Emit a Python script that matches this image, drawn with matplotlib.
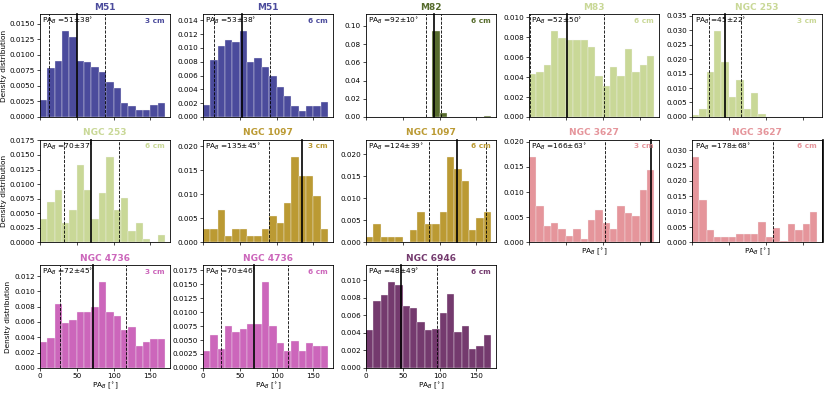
import matplotlib.pyplot as plt
from matplotlib.ticker import MaxNLocator
import numpy as np

# PA histograms, 10 deg bins from 0 to 170
bin_edges = np.arange(0, 180, 10)

m51_3cm = [0.0027, 0.0079, 0.0090, 0.0138, 0.0129, 0.0090, 0.0088, 0.0081, 0.0072,
           0.0057, 0.0047, 0.0022, 0.0017, 0.0011, 0.0011, 0.0020, 0.0022]
m51_6cm = [0.0018, 0.0083, 0.0103, 0.0112, 0.0108, 0.0124, 0.0079, 0.0085, 0.0072,
           0.0060, 0.0043, 0.0031, 0.0016, 0.0009, 0.0016, 0.0016, 0.0022]
m82_6cm = [0, 0, 0, 0, 0, 0, 0, 0, 0, 0.094, 0.0047, 0, 0, 0, 0, 0, 0.001]
m83_6cm = [0.0043, 0.0045, 0.0052, 0.0086, 0.0079, 0.0077, 0.0077, 0.0077, 0.0070,
           0.0041, 0.0031, 0.0050, 0.0041, 0.0068, 0.0045, 0.0052, 0.0061]
ngc253_3cm = [0.0006, 0.0026, 0.0154, 0.0296, 0.0190, 0.0069, 0.0126, 0.0026, 0.0082,
              0.0011, 0, 0, 0, 0, 0, 0, 0]
ngc253_6cm = [0.0041, 0.0069, 0.0090, 0.0034, 0.0055, 0.0133, 0.0090, 0.0041, 0.0084,
              0.0147, 0.0055, 0.0076, 0.0020, 0.0034, 0.0006, 0, 0.0013]
ngc1097_3cm = [0.0027, 0.0027, 0.0068, 0.0013, 0.0027, 0.0027, 0.0013, 0.0013, 0.0027,
               0.0055, 0.0041, 0.0082, 0.0178, 0.0137, 0.0137, 0.0096, 0.0027]
ngc1097_6cm = [0.0013, 0.0041, 0.0013, 0.0013, 0.0013, 0, 0.0028, 0.0069, 0.0041,
               0.0041, 0.0069, 0.0194, 0.0166, 0.0138, 0.0028, 0.0055, 0.0069]
ngc3627_3cm = [0.0170, 0.0072, 0.0033, 0.0039, 0.0026, 0.0012, 0.0026, 0.0006, 0.0045,
               0.0065, 0.0039, 0.0026, 0.0072, 0.0059, 0.0052, 0.0104, 0.0144]
ngc3627_6cm = [0.0279, 0.0139, 0.0040, 0.0019, 0.0019, 0.0019, 0.0027, 0.0027, 0.0027,
               0.0066, 0.0019, 0.0046, 0.0006, 0.0060, 0.0040, 0.0060, 0.0100]
ngc4736_3cm = [0.0034, 0.0039, 0.0083, 0.0058, 0.0063, 0.0073, 0.0073, 0.0079, 0.0112,
               0.0073, 0.0068, 0.0049, 0.0054, 0.0029, 0.0034, 0.0038, 0.0038]
ngc4736_6cm = [0.0030, 0.0059, 0.0034, 0.0075, 0.0064, 0.0069, 0.0079, 0.0079, 0.0154,
               0.0075, 0.0044, 0.0030, 0.0049, 0.0030, 0.0044, 0.0040, 0.0040]
ngc6946_6cm = [0.0043, 0.0076, 0.0083, 0.0098, 0.0095, 0.0071, 0.0068, 0.0053, 0.0043,
               0.0045, 0.0063, 0.0085, 0.0041, 0.0048, 0.0022, 0.0025, 0.0038]

names = ["M51", "M51", "M82", "M83", "NGC 253", "NGC 253", "NGC 1097", "NGC 1097",
         "NGC 3627", "NGC 3627", "NGC 4736", "NGC 4736", "NGC 6946"]
bands = ["3 cm", "6 cm", "6 cm", "6 cm", "3 cm", "6 cm", "3 cm", "6 cm",
         "3 cm", "6 cm", "3 cm", "6 cm", "6 cm"]
pa_mean = [51, 53, 92, 52, 45, 70, 135, 124, 166, 178, 72, 70, 48]
pa_std = [38, 38, 10, 50, 22, 37, 45, 39, 63, 68, 45, 46, 49]
hists = [m51_3cm, m51_6cm, m82_6cm, m83_6cm, ngc253_3cm, ngc253_6cm, ngc1097_3cm,
         ngc1097_6cm, ngc3627_3cm, ngc3627_6cm, ngc4736_3cm, ngc4736_6cm, ngc6946_6cm]
colors = ["#4b4b9c", "#4b4b9c", "#566b2c", "#c9d897", "#c9d897", "#c9d897", "#bb9a33",
          "#bb9a33", "#e5959b", "#e5959b", "#cc66bb", "#cc66bb", "#743a6e"]

fig, axes = plt.subplots(3, 5, figsize=(8.3, 3.93), dpi=100, sharex=True)
fig.subplots_adjust(left=0.048, right=0.99, top=0.964, bottom=0.064,
                    wspace=0.256, hspace=0.22)
axes = axes.ravel()

for i, ax in enumerate(axes):
    if i >= len(names):
        ax.axis("off")
        continue
    c = colors[i]
    vals = hists[i]
    ax.bar(bin_edges[:-1], vals, width=10, align="edge", color=c,
           edgecolor="#f4f4f4", linewidth=0.25)
    ax.axvline(pa_mean[i], color="k", lw=1.2, clip_on=False)
    ax.axvline(pa_mean[i] - pa_std[i], color="k", ls="--", lw=0.6)
    ax.axvline(pa_mean[i] + pa_std[i], color="k", ls="--", lw=0.6)
    ax.set_xlim(0, 176)
    ax.set_ylim(0, 1.2 * max(vals))
    ax.yaxis.set_major_locator(MaxNLocator(nbins=8, steps=[1, 2, 2.5, 5, 10]))
    ax.set_xticks([0, 50, 100, 150])
    ax.set_title(names[i], color=c, fontsize=6.5, fontweight="bold", pad=3)
    ax.text(0.02, 0.985, f"PA$_B$ ={pa_mean[i]}±{pa_std[i]}$^{{\\circ}}$",
            transform=ax.transAxes, ha="left", va="top", fontsize=5.3)
    ax.text(0.96, 0.965, bands[i], transform=ax.transAxes, ha="right", va="top",
            fontsize=5.3, color=c, fontweight="bold")
    ax.tick_params(labelsize=5.2, length=2, width=0.5, pad=1.5)
    for s in ax.spines.values():
        s.set_linewidth(0.6)
    if i % 5 == 0:
        ax.set_ylabel("Density distribution", fontsize=5.3, labelpad=2)
    if i >= 8:
        ax.set_xlabel("PA$_B$ [$^{\\circ}$]", fontsize=5.3, labelpad=1.5)

plt.savefig("out.png", dpi=100)
